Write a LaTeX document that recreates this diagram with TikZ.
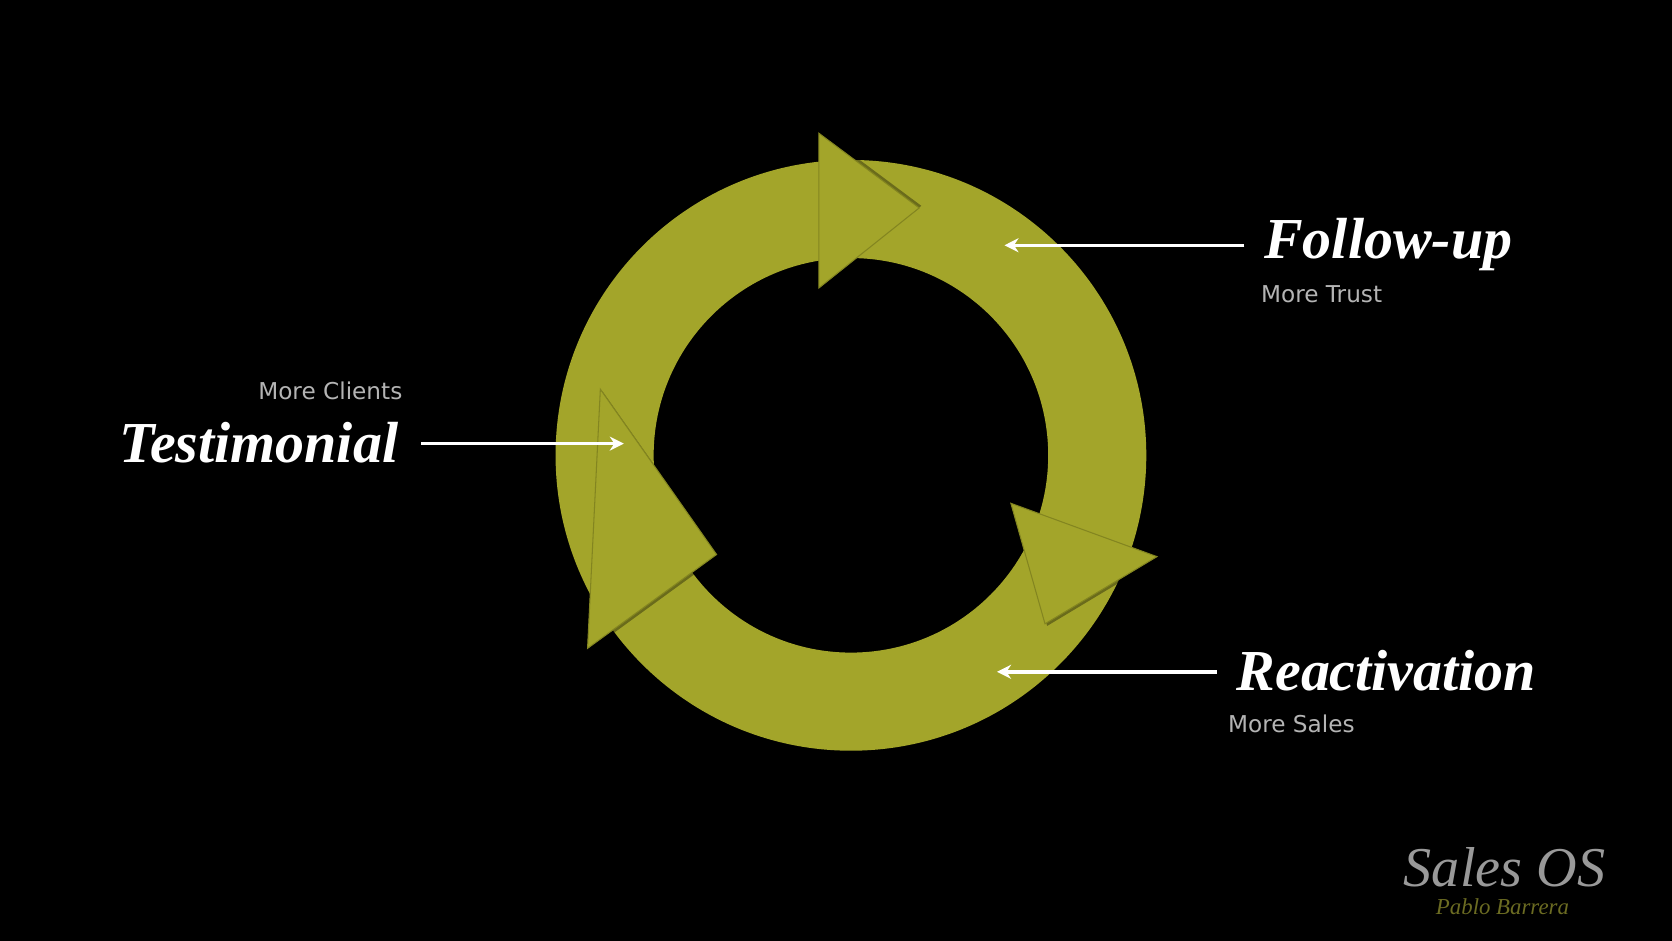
\documentclass[tikz,border=0pt]{standalone}
\usepackage{fontspec}
\setmainfont{Liberation Serif}
\newfontfamily\labelsans{DejaVu Sans}
\usetikzlibrary{calc,arrows.meta}
\definecolor{ringolive}{HTML}{A3A52A}
\definecolor{ringdark}{HTML}{6E701A}
\definecolor{subgray}{HTML}{B4B4B4}
\definecolor{brandolive}{HTML}{6B6B22}

\tikzset{
  stage/.style={text=white,font=\fontsize{16.5}{18}\selectfont\bfseries\itshape,inner sep=0pt},
  gain/.style={text=subgray,font=\labelsans\fontsize{6.6}{8}\selectfont,inner sep=0pt},
  pointer/.style={white,line width=1pt,-{Stealth[length=4pt,width=4pt]}},
  head/.style={fill=ringolive,draw=ringdark!60!ringolive,line width=0.3pt},
}

\begin{document}
\begin{tikzpicture}[x=0.01066cm,y=-0.01066cm]
  \fill[black] (0,0) rectangle (1568,882);
  \useasboundingbox (0,0) rectangle (1568,882);

  % the ring, in math orientation around its centre
  \begin{scope}[shift={(798,427)},yscale=-1]
    \fill[ringolive,even odd rule] (0,0) circle[radius=277] (0,0) circle[radius=185];
    % arrowheads
    \fill[black,opacity=0.35] (-28,304) -- (66,234) -- (-28,159) -- cycle;
    \filldraw[head] (-30,302) -- (64,232) -- (-30,157) -- cycle;
    \fill[black,opacity=0.35] (152,-47) -- (289,-97) -- (184,-160) -- cycle;
    \filldraw[head] (150,-45) -- (287,-95) -- (182,-158) -- cycle;
    \fill[black,opacity=0.35] (-245,-183) -- (-233,60) -- (-124,-95) -- cycle;
    \filldraw[head] (-247,-181) -- (-235,62) -- (-126,-93) -- cycle;
  \end{scope}

  % labels
  \node[stage,anchor=west] (follow) at (1185,229) {Follow-up};
  \node[gain,anchor=west] (trust) at (1182,276) {More Trust};
  \node[stage,anchor=east] (testi) at (374,415) {Testimonial};
  \node[gain,anchor=east] (clients) at (378,367) {More Clients};
  \node[stage,anchor=west] (react) at (1159,629) {Reactivation};
  \node[gain,anchor=west] (sales) at (1151,679) {More Sales};

  \coordinate (followend) at (942,230);
  \coordinate (testiend) at (585,416);
  \coordinate (reactend) at (935,630);
  \draw[pointer] ($(follow.west)+(-18,1)$) -- (followend);
  \draw[pointer] ($(testi.east)+(21,1)$) -- (testiend);
  \draw[pointer] ($(react.west)+(-18,1)$) -- (reactend);

  % brand
  \node[text=gray!80,font=\fontsize{16}{18}\selectfont\itshape,inner sep=0pt] (brand) at (1411,813) {Sales OS};
  \node[text=brandolive,font=\fontsize{6.5}{8}\selectfont\itshape,inner sep=0pt] (author) at (1409,850) {Pablo Barrera};
\end{tikzpicture}
\end{document}
